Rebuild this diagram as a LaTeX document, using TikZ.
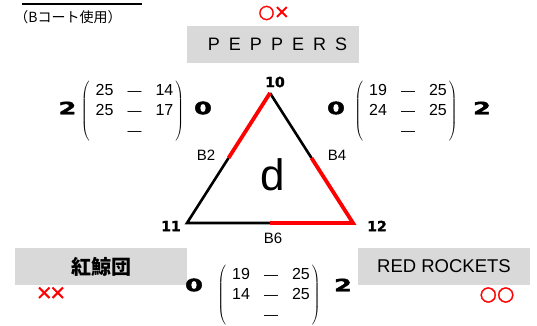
\documentclass[tikz,border=0pt]{standalone}
\usepackage{fontspec}
\usepackage{graphicx}
\usetikzlibrary{calc}
\setmainfont{Liberation Sans}
\newfontfamily\jpfont{Noto Sans CJK JP}
\newfontfamily\heavyfont[BoldFeatures={FakeBold=2}]{DejaVu Sans}
\newfontfamily\markfont[FakeBold=1.5]{DejaVu Sans}
\definecolor{boxgray}{RGB}{217,217,217}

% so set lon (dam, rong ngang)
\newcommand{\setscore}[1]{{\heavyfont\bfseries\fontsize{17}{17}\selectfont\scalebox{1.5}[1]{#1}}}
% gach ngang giua hai diem so
\newcommand{\scoredash}{{\fontsize{14}{14}\selectfont —}}
% dau thang / thua
\newcommand{\winmark}{{\fontsize{25}{25}\selectfont ○}}
\newcommand{\losemark}{{\fontsize{25}{25}\selectfont ×}}
% bang diem trong ngoac lon
\newcommand{\pointtable}[4]{\(\left(\vcenter{\hbox{\fontsize{16}{20}\selectfont
  \begin{tabular}{@{\hspace{6pt}}c@{\hspace{14pt}}c@{\hspace{14pt}}c@{\hspace{2pt}}}
  #1 & \scoredash & #2\\
  #3 & \scoredash & #4\\
     & \scoredash &
  \end{tabular}}}\right)\)}

\begin{document}
\begin{tikzpicture}[x=1pt, y=-1pt,
    teambox/.style={fill=boxgray, minimum width=172, minimum height=37, inner sep=0pt},
    vertexlabel/.style={font=\heavyfont\bfseries\fontsize{14}{14}\selectfont},
    courtlabel/.style={font=\fontsize{15}{15}\selectfont},
    markred/.style={text=red, inner sep=0pt, font=\markfont},
    edgeblack/.style={line width=2.6pt},
    edgered/.style={line width=3.8pt, red}]
        % Khung cua hinh
        \useasboundingbox (0,0) rectangle (537,325);

        % Tieu de (bi cat) va ghi chu san
        \draw[line width=1.2pt] (22,4) -- (142,4);
        \node (courtnote) at (68,17) {\jpfont\fontsize{14}{14}\selectfont （Bコート使用）};

        % Cac o ten doi
        \node[teambox] (peppers) at (273,44) {\fontsize{18}{18}\selectfont\addfontfeature{LetterSpace=50}PEPPERS\kern-9pt};
        \node[teambox] (kujira) at (101,266.5) {\jpfont\bfseries\fontsize{20}{20}\selectfont 紅鯨団};
        \node[teambox] (rockets) at (444,266.5) {\fontsize{18.5}{18.5}\selectfont RED ROCKETS};

        % Ket qua thang thua
        \node[markred, scale=0.75] (pepmark) at (274,13) {\winmark\kern-1pt\losemark};
        \node[markred, scale=0.8] (kujmark) at (51,293) {\losemark\kern-4pt\losemark};
        \node[markred, scale=0.8] (rocmark) at (497,295) {\winmark\kern0pt\winmark};

        % Ba dinh cua tam giac
        \coordinate (v10) at (270,93);
        \coordinate (v11) at (187,223);
        \coordinate (v12) at (353,223);
        \coordinate (m2) at ($(v10)!0.5!(v11)$);
        \coordinate (m4) at ($(v10)!0.5!(v12)$);
        \coordinate (m6) at ($(v11)!0.5!(v12)$);

        % Canh tam giac: den truoc, do sau
        \draw[edgeblack] (v10) -- (m4);
        \draw[edgeblack] (m2) -- (v11) -- (m6);
        \draw[edgered] (v10) -- (m2);
        \draw[edgered, line join=miter] (m4) -- (v12) -- (m6);

        % Nhan dinh va san
        \node[vertexlabel] (n10) at (275,82) {10};
        \node[vertexlabel] (n11) at (171,226) {11};
        \node[vertexlabel] (n12) at (377,226) {12};
        \node[courtlabel] (c2) at (206,155) {B2};
        \node[courtlabel] (c4) at (337,155) {B4};
        \node[courtlabel] (c6) at (273,238) {B6};
        \node[font=\fontsize{44}{44}\selectfont] (blockd) at (273,175) {d};

        % Bang diem tung tran
        \node (tabL) at (132.5,111) {\pointtable{25}{14}{25}{17}};
        \node (tabR) at (406,111) {\pointtable{19}{25}{24}{25}};
        \node (tabB) at (269,295) {\pointtable{19}{25}{14}{25}};

        % So set thang
        \node (sL1) at (67.5,108) {\setscore{2}};
        \node (sL2) at (203,108) {\setscore{0}};
        \node (sR1) at (336,108) {\setscore{0}};
        \node (sR2) at (482,108) {\setscore{2}};
        \node (sB1) at (194,285) {\setscore{0}};
        \node (sB2) at (343,285) {\setscore{2}};
    \end{tikzpicture}
\end{document}
